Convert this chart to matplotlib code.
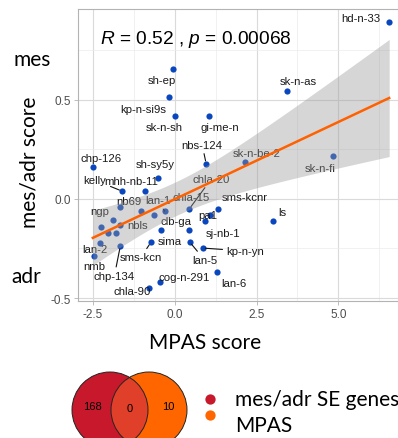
import numpy as np
import matplotlib
matplotlib.use("Agg")
import matplotlib.pyplot as plt
from matplotlib.patches import Circle

plt.rcParams['font.family'] = ['Liberation Sans', 'DejaVu Sans']
plt.rcParams['mathtext.fontset'] = 'custom'
plt.rcParams['mathtext.it'] = 'Liberation Sans:italic'
plt.rcParams['mathtext.rm'] = 'Liberation Sans'

# cell lines: MPAS score vs mes/adr score
cell_lines = ['hd-n-33', 'sh-ep', 'sk-n-as', 'kp-n-si9s', 'sk-n-sh', 'gi-me-n',
              'nbs-124', 'sk-n-be-2', 'sk-n-fi', 'chp-126', 'sh-sy5y', 'kelly',
              'mhh-nb-11', 'nb69', '', 'lan-1', 'chla-15', 'chla-20', 'sms-kcnr',
              'pa1', 'sj-nb-1', 'ls', 'ngp', 'nbls', '', '', '', 'sima', 'clb-ga',
              'lan-2', 'nmb', 'chp-134', 'sms-kcn', 'lan-5', 'kp-n-yn',
              'cog-n-291', 'lan-6', 'chla-90']
mpas = [6.55, -0.06, 3.44, -0.16, 0.01, 1.05,
        0.96, 2.14, 4.82, -2.50, -0.50, -1.61,
        -0.90, -1.67, -1.03, -0.31, -0.62, 0.45, 1.32,
        1.08, 0.93, 2.99, -1.88, -1.68, -2.25, -2.05, -1.79, -0.41, 0.43,
        -2.28, -2.46, -1.66, -0.73, 0.46, 0.85,
        -0.45, 1.29, -0.78]
mes_adr = [0.890, 0.653, 0.544, 0.515, 0.416, 0.416,
           0.178, 0.188, 0.218, 0.158, 0.107, 0.039,
           0.039, -0.042, -0.062, -0.062, -0.083, -0.050, -0.050,
           -0.083, -0.112, -0.111, -0.109, -0.131, -0.140, -0.170, -0.170, -0.156, -0.159,
           -0.221, -0.288, -0.238, -0.220, -0.218, -0.248,
           -0.419, -0.369, -0.448]
stat_text = r'$\it{R}$ = 0.52 , $\it{p}$ = 0.00068'

# venn: exclusive left, shared, exclusive right
venn_counts = [168, 0, 10]
venn_sets = ['mes/adr SE genes', 'MPAS']
venn_colors = ['#c8182c', '#ff6600']
venn_mid = '#e0402a'

# label offsets in pixels (dx right, dy down) and whether a connector is drawn
label_offsets = [(-28, -4), (-11, 11), (11, -10), (-26, 12), (-11, 11), (11, 11),
                 (-4, -19), (12, -9), (-12, 12), (8, -9), (-3, -14), (-27, -11),
                 (-14, -10), (9, -6), (0, 0), (-7, -11), (37, -18), (22, -30), (27, -12),
                 (-2, 0), (18, 12), (10, -9), (-13, -9), (18, 0), (0, 0), (0, 0), (0, 0),
                 (9, 11), (-13, -9),
                 (-5, 6), (0, 10), (-6, 30), (-10, 15), (15, 18), (43, 3),
                 (24, -5), (17, 11), (-17, 3)]
connectors = {'nbs-124', 'kelly', 'lan-1', 'chla-20', 'chp-134', 'sms-kcn', 'lan-5', 'kp-n-yn'}

x = np.array(mpas)
y = np.array(mes_adr)

W, H = 398, 439
fig = plt.figure(figsize=(W / 100, H / 100), dpi=100)

# main scatter panel (runs off the right edge)
x0, x1, y0, y1 = 78, 404, 10, 302
ax = fig.add_axes([x0 / W, 1 - y1 / H, (x1 - x0) / W, (y1 - y0) / H])
xr = x.max() - x.min()
yr = y.max() - y.min()
ax.set_xlim(x.min() - 0.05 * xr, x.max() + 0.05 * xr)
ax.set_ylim(y.min() - 0.05 * yr, y.max() + 0.05 * yr)
ax.set_xticks([-2.5, 0, 2.5, 5.0])
ax.set_xticklabels(['-2.5', '0.0', '2.5', '5.0'])
ax.set_yticks([-0.5, 0, 0.5])
ax.set_yticklabels(['-0.5', '0.0', '0.5'])
ax.set_xticks([-1.25, 1.25, 3.75, 6.25], minor=True)
ax.set_yticks([-0.25, 0.25, 0.75], minor=True)
ax.grid(True, which='major', color='#dadada', lw=0.8)
ax.grid(True, which='minor', color='#ebebeb', lw=0.5)
ax.set_axisbelow(True)
for s in ax.spines.values():
    s.set_color('#b3b3b3')
    s.set_linewidth(0.8)
ax.tick_params(which='major', length=2.8, width=0.6, color='#b3b3b3',
               labelsize=8.5, labelcolor='#4d4d4d', pad=2)
ax.tick_params(which='minor', length=0)

ax.scatter(x, y, s=20, color='#0a47bf', zorder=3, linewidths=0)

for name, px, py, (dx, dy) in zip(cell_lines, x, y, label_offsets):
    if not name:
        continue
    props = None
    if name in connectors:
        props = dict(arrowstyle='-', color='#111111', lw=0.8, shrinkA=1, shrinkB=2)
    ax.annotate(name, (px, py), xytext=(dx, -dy), textcoords='offset pixels',
                ha='center', va='center', fontsize=8.2, color='#1a1a1a',
                arrowprops=props, zorder=4)

# linear fit with 95% band
n = len(x)
slope, intercept = np.polyfit(x, y, 1)
resid = y - (slope * x + intercept)
s_err = np.sqrt(np.sum(resid ** 2) / (n - 2))
t_crit = 2.028
xs = np.linspace(x.min(), x.max(), 80)
ys = slope * xs + intercept
se = s_err * np.sqrt(1 / n + (xs - x.mean()) ** 2 / np.sum((x - x.mean()) ** 2))
ax.fill_between(xs, ys - t_crit * se, ys + t_crit * se, color='#999999', alpha=0.4,
                lw=0, zorder=5)
ax.plot(xs, ys, color='#ff6100', lw=1.8, zorder=6)

# overlay in pixel coordinates for titles, tags and venn
ov = fig.add_axes([0, 0, 1, 1])
ov.set_xlim(0, W)
ov.set_ylim(H, 0)
ov.axis('off')
ov.patch.set_alpha(0)

ov.text(100, 43.5, stat_text, fontsize=13.8, va='baseline', ha='left', color='black')

title_font = ['Lato', 'DejaVu Sans']
ov.text(205, 343, 'MPAS score', fontsize=15, ha='center', va='center', family=title_font)
ov.text(29, 162, 'mes/adr score', fontsize=15, ha='center', va='center', rotation=90,
        family=title_font)
ov.text(32, 60, 'mes', fontsize=15, ha='center', va='center', family=title_font)
ov.text(26, 277, 'adr', fontsize=15, ha='center', va='center', family=title_font)

r = 38
ca = (110, 411)
cb = (149, 411)
left = Circle(ca, r, facecolor=venn_colors[0], edgecolor='none')
right = Circle(cb, r, facecolor=venn_colors[1], edgecolor='none')
ov.add_patch(left)
ov.add_patch(right)
mid = Circle(cb, r, facecolor=venn_mid, edgecolor='none')
ov.add_patch(mid)
mid.set_clip_path(left)
for c in (ca, cb):
    ov.add_patch(Circle(c, r, facecolor='none', edgecolor='#222222', lw=0.7))
ov.text(92, 407, str(venn_counts[0]), fontsize=8, ha='center', va='center')
ov.text(129.5, 409, str(venn_counts[1]), fontsize=8, ha='center', va='center')
ov.text(168, 407, str(venn_counts[2]), fontsize=8, ha='center', va='center')

for i, (label, col) in enumerate(zip(venn_sets, venn_colors)):
    ov.scatter([210], [400 + 16 * i], s=55, color=col, linewidths=0)
ov.text(235, 400, venn_sets[0], fontsize=15, ha='left', va='center', family=title_font)
ov.text(235, 426, venn_sets[1], fontsize=15, ha='left', va='center', family=title_font)

fig.savefig('out.png', dpi=100)
